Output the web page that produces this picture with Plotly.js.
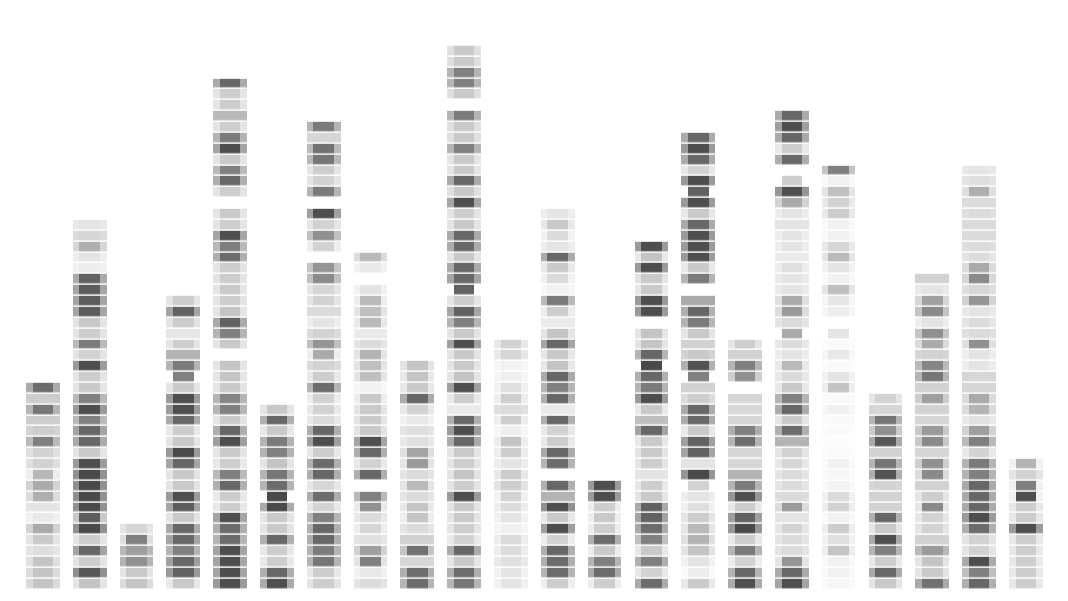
<!DOCTYPE html>
<html>
<head>
<meta charset="utf-8">
<script src="https://cdn.plot.ly/plotly-3.0.1.min.js"></script>
<style>html,body{margin:0;padding:0;background:#fff;overflow:hidden}#chart{width:1068px;height:601px}</style>
</head>
<body>
<div id="chart"></div>
<script>
// Gray levels (0 black .. 255 white), rows listed bottom-up; null = empty slot.
const c01=[190,190,190,218,195,165,232,225,170,165,178,205,205,125,200,200,115,200,105];
const s01=[215,215,220,225,225,205,240,225,215,205,235,220,220,180,205,200,175,200,165];
const c02=[190,85,200,100,200,70,90,70,70,70,70,75,195,100,100,125,75,125,195,200,75,205,120,200,195,90,90,90,95,235,225,170,210,225];
const s02=[225,140,225,160,225,140,195,140,140,140,140,150,225,165,160,180,150,180,225,225,150,225,180,225,225,160,160,160,165,240,235,210,215,230];
const c03=[190,195,140,155,125,210];
const s03=[215,225,175,180,220,225];
const c04=[195,95,100,125,100,100,195,90,75,195,195,100,70,195,200,100,75,75,195,125,120,175,200,228,200,95,200];
const s04=[230,150,155,175,160,165,225,160,150,225,225,160,150,225,230,165,150,150,225,255,175,175,225,228,225,160,225];
const c05=[75,75,75,75,105,105,75,200,200,100,125,200,195,75,100,195,125,130,195,190,190,null,195,125,95,190,200,195,200,200,105,125,75,200,195,null,200,100,125,195,75,120,200,180,200,200,100];
const s05=[150,160,160,160,175,170,160,230,230,170,180,230,225,155,170,225,175,175,225,225,225,null,225,175,165,225,225,225,225,225,170,180,160,225,225,null,225,170,180,225,160,175,225,180,225,225,165];
const c06=[75,100,200,200,100,195,195,70,70,105,115,190,125,120,195,100,195];
const s06=[165,170,230,230,170,225,225,165,255,175,175,225,175,175,230,170,225];
const c07=[200,200,115,120,100,100,125,205,105,210,100,105,200,75,100,215,205,205,105,200,205,165,145,205,225,215,205,210,135,145,null,205,140,205,75,null,120,205,200,115,110,210,120];
const s07=[225,230,175,175,170,170,175,230,170,230,170,170,230,155,170,230,230,235,175,230,215,235,185,215,235,215,225,225,185,190,null,235,185,225,155,null,175,225,225,180,180,210,175];
const c08=[215,230,125,155,220,210,215,140,125,null,100,205,100,75,195,195,195,195,240,185,185,175,215,232,180,185,180,225,null,230,180];
const s08=[225,240,225,205,225,235,230,230,180,null,170,230,170,160,225,225,225,235,245,225,225,225,225,232,230,225,235,240,null,240,215];
const c09=[105,105,210,110,205,215,190,190,215,180,215,150,160,220,220,230,205,100,195,190,190];
const s09=[175,170,210,190,205,225,235,230,225,225,225,225,220,230,225,240,230,165,230,230,225];
const c10=[115,105,195,100,205,200,195,195,75,200,190,200,195,100,75,100,232,200,75,190,195,195,75,195,125,95,200,95,100,100,195,100,100,195,200,75,195,100,195,195,125,195,195,120,null,195,125,125,195,195];
const s10=[175,170,225,165,230,225,225,225,150,225,225,225,225,165,150,170,232,230,155,225,225,225,155,225,175,160,225,255,160,165,225,165,165,225,225,160,220,165,225,225,175,220,220,175,null,220,175,175,220,220];
const c11=[225,225,220,215,215,240,225,215,205,200,200,225,200,190,238,200,215,200,220,238,240,210,205];
const s11=[240,240,230,235,235,245,240,235,240,225,230,235,235,235,245,235,220,235,240,245,245,230,230];
const c12=[200,105,105,100,205,75,195,75,175,100,null,105,100,200,205,100,232,100,125,100,190,195,100,190,232,200,120,240,215,195,100,225,215,195,225];
const s12=[235,175,170,170,235,155,230,140,175,170,null,175,165,230,230,170,232,170,175,165,230,230,160,225,232,235,180,245,240,230,165,235,240,230,235];
const c13=[200,105,125,195,105,200,195,200,75,75];
const s13=[235,165,175,235,170,235,235,235,150,150];
const c14=[105,205,125,195,125,105,95,95,195,200,225,200,195,195,100,185,195,75,120,100,70,100,190,190,null,75,75,195,195,75,190,75];
const s14=[165,230,170,230,185,165,160,165,225,230,225,225,225,230,160,185,230,150,175,170,255,175,225,225,null,150,150,230,225,150,230,150];
const c15=[195,235,225,190,175,180,200,220,225,205,70,225,95,95,195,100,100,200,205,125,80,195,205,195,120,100,165,null,120,195,75,75,75,100,195,75,95,75,205,100,75,100];
const s15=[230,250,240,225,220,225,225,240,235,255,145,225,160,155,230,165,165,215,205,255,170,205,205,225,175,170,165,null,175,230,150,150,150,165,230,150,255,150,230,165,150,165];
const c16=[75,100,205,120,200,70,95,200,75,120,175,210,210,105,125,210,210,210,null,140,125,205,200];
const s16=[165,175,235,175,230,145,155,230,145,175,175,210,210,175,170,210,210,210,null,200,175,205,225];
const c17=[75,100,145,215,215,205,225,150,215,215,215,210,205,175,105,195,100,125,195,215,180,225,215,165,215,150,165,225,225,220,232,225,225,225,225,165,75,200,null,100,200,100,75,100];
const s17=[160,165,225,225,225,225,225,215,215,225,225,230,225,175,170,225,165,175,230,230,230,235,230,255,225,215,220,232,232,235,232,235,235,225,235,205,145,255,null,170,230,165,155,165];
const c18=[245,240,240,190,220,200,240,205,215,242,245,240,250,252,250,248,240,248,190,225,248,230,250,225,null,235,228,185,240,225,180,210,240,240,200,205,185,240,125];
const s18=[250,248,248,235,240,235,248,235,240,248,250,248,252,253,252,250,245,250,235,240,252,245,252,255,null,245,245,225,248,240,225,230,248,248,230,230,225,248,190];
const c19=[195,100,200,125,75,195,100,205,205,205,80,115,205,85,140,115,210,205];
const s19=[225,165,230,175,165,225,170,205,205,210,170,175,205,165,195,175,210,225];
const c20=[110,195,190,150,205,205,205,135,200,205,135,140,210,135,150,210,205,155,205,115,130,205,165,140,225,135,155,225,205];
const s20=[165,225,225,180,205,225,230,225,225,205,215,200,210,195,195,210,205,200,205,175,180,210,215,190,235,190,210,230,205];
const c21=[100,125,75,205,205,105,75,100,100,100,125,120,205,125,155,222,175,165,210,210,225,225,140,215,215,225,145,210,135,165,215,215,215,215,215,215,170,220,225];
const s21=[170,185,165,225,225,170,150,165,165,165,175,175,230,180,205,230,215,215,210,210,235,235,220,220,225,230,205,220,210,215,225,220,215,215,220,215,220,225,230];
const c22=[200,200,200,200,200,75,200,200,75,125,205,175];
const s22=[230,230,230,230,230,150,230,230,240,240,225,240];

const centers=[c01,c02,c03,c04,c05,c06,c07,c08,c09,c10,c11,c12,c13,c14,c15,c16,c17,c18,c19,c20,c21,c22];
const sides=[s01,s02,s03,s04,s05,s06,s07,s08,s09,s10,s11,s12,s13,s14,s15,s16,s17,s18,s19,s20,s21,s22];
const ROWS=50;

const edges=[];
const z=[];
const ys=[];
for(let r=0;r<ROWS;r++){
  ys.push(r);
  const row=[];
  centers.forEach((col,i)=>{
    const cv=r<col.length?col[r]:null;
    const sv=r<sides[i].length?sides[i][r]:null;
    row.push(sv,cv,sv);
    if(i<centers.length-1)row.push(null);
  });
  z.push(row);
}
centers.forEach((col,i)=>{edges.push(i-0.36,i-0.22,i+0.22,i+0.36);});

const trace={type:'heatmap',x:edges,y:ys,z:z,zmin:0,zmax:255,
  colorscale:[[0,'#000000'],[0.294,'#4e4e4e'],[0.49,'#808080'],[0.765,'#c9c9c9'],[0.88,'#e3e3e3'],[1,'#ffffff']],
  showscale:false,ygap:1.5,xgap:0,hoverinfo:'skip'};
const layout={width:1068,height:601,margin:{l:0,r:0,t:0,b:0,pad:0},
  paper_bgcolor:'#fff',plot_bgcolor:'#fff',showlegend:false,
  xaxis:{visible:false,range:[-0.9154,21.9],fixedrange:true},
  yaxis:{visible:false,range:[-1.575,53.71],fixedrange:true}};
Plotly.newPlot('chart',[trace],layout,{displayModeBar:false,staticPlot:true});
</script>
</body>
</html>
